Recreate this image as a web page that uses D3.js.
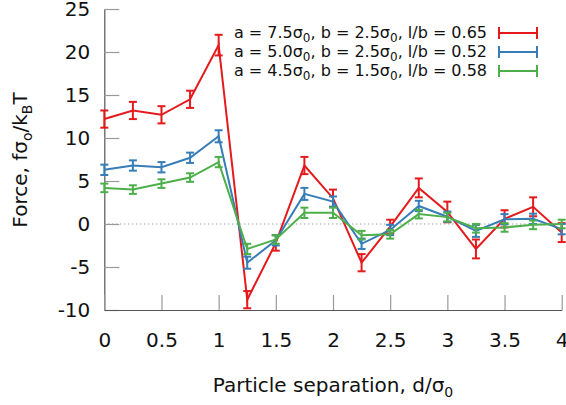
<!DOCTYPE html>
<html><head><meta charset="utf-8">
<script src="https://cdn.jsdelivr.net/npm/d3@7/dist/d3.min.js"></script>
<style>body{margin:0;background:#fff}svg{display:block}text{font-family:"DejaVu Sans",sans-serif}</style>
</head><body>
<script>
const separation = [0,0.25,0.5,0.75,1,1.25,1.5,1.75,2,2.25,2.5,2.75,3,3.25,3.5,3.75,4];
const redForce   = [12.2,13.2,12.7,14.5,20.8,-8.8,-2.2,6.8,3.0,-4.5,-0.3,4.2,1.4,-2.9,0.6,2.0,-1.0];
const redErr     = [1.0,1.0,1.0,1.0,1.2,1.0,0.9,1.0,1.0,1.0,0.8,1.1,1.2,1.1,1.0,1.1,1.1];
const blueForce  = [6.3,6.8,6.6,7.7,10.2,-4.5,-1.9,3.5,2.6,-2.3,-0.7,2.1,0.85,-0.8,0.55,0.6,-0.6];
const blueErr    = [0.6,0.6,0.6,0.6,0.7,0.7,0.6,0.7,0.6,0.6,0.6,0.6,0.6,0.7,0.6,0.6,0.6];
const greenForce = [4.2,4.0,4.7,5.4,7.2,-2.9,-1.8,1.3,1.3,-1.3,-1.2,1.15,0.8,-0.5,-0.4,-0.1,0.0];
const greenErr   = [0.5,0.5,0.5,0.5,0.6,0.6,0.5,0.6,0.6,0.5,0.5,0.5,0.5,0.5,0.5,0.5,0.5];
const seriesLabels = [
  ["a = 7.5σ","0",", b = 2.5σ","0",", l/b = 0.65"],
  ["a = 5.0σ","0",", b = 2.5σ","0",", l/b = 0.52"],
  ["a = 4.5σ","0",", b = 1.5σ","0",", l/b = 0.58"]
];
const colors = ["#e41a1c","#377eb8","#4daf4a"];
const xTicks = [0,0.5,1,1.5,2,2.5,3,3.5,4];
const yTicks = [-10,-5,0,5,10,15,20,25];

const W=566,H=405;
const svg=d3.select("body").append("svg").attr("width",W).attr("height",H);
const x=d3.scaleLinear().domain([0,4]).range([104.3,561.7]);
const y=d3.scaleLinear().domain([-10,25]).range([310,9]);

// zero line
svg.append("line").attr("x1",x(0)).attr("x2",x(4)).attr("y1",y(0)).attr("y2",y(0))
  .attr("stroke","#777").attr("stroke-width",1).attr("stroke-dasharray","1,3");

const yAx=svg.append("g").attr("transform",`translate(${x(0)},0)`)
  .call(d3.axisLeft(y).tickValues(yTicks).tickSize(-15).tickPadding(14).tickSizeOuter(0).tickFormat(d=>String(d)));
const xAx=svg.append("g").attr("transform",`translate(0,${y(-10)})`)
  .call(d3.axisBottom(x).tickValues(xTicks).tickSize(-15).tickPadding(23).tickSizeOuter(0).tickFormat(d=>String(d)));
[yAx,xAx].forEach(g=>{
  g.select(".domain").attr("stroke","#555").attr("stroke-width",1.2);
  g.selectAll(".tick line").attr("stroke","#999").attr("stroke-width",1.2);
  g.selectAll(".tick text").attr("font-size",20).attr("fill","#111").attr("font-family","DejaVu Sans");
});

const series=[redForce,blueForce,greenForce];
const errs=[redErr,blueErr,greenErr];
const line=d3.line().x((d,i)=>x(separation[i])).y(d=>y(d));
series.forEach((s,k)=>{
  const g=svg.append("g");
  g.append("path").attr("d",line(s)).attr("fill","none").attr("stroke",colors[k]).attr("stroke-width",2);
  s.forEach((v,i)=>{
    const cx=x(separation[i]),y1=y(v-errs[k][i]),y2=y(v+errs[k][i]);
    g.append("line").attr("x1",cx).attr("x2",cx).attr("y1",y1).attr("y2",y2).attr("stroke",colors[k]).attr("stroke-width",2);
    [y1,y2].forEach(yy=>g.append("line").attr("x1",cx-4).attr("x2",cx+4).attr("y1",yy).attr("y2",yy).attr("stroke",colors[k]).attr("stroke-width",2));
  });
});

// legend
seriesLabels.forEach((parts,k)=>{
  const cy=33+k*19;
  const t=svg.append("text").attr("x",487).attr("y",cy+5).attr("text-anchor","end").attr("font-size",16).attr("fill","#111");
  parts.forEach((p,j)=>{
    const ts=t.append("tspan").text(p);
    if(j%2===1){ts.attr("font-size",12).attr("dy",4);} else if(j>0){ts.attr("dy",-4);}
  });
  const g=svg.append("g").attr("stroke",colors[k]).attr("stroke-width",2);
  g.append("line").attr("x1",499).attr("x2",537).attr("y1",cy).attr("y2",cy);
  g.append("line").attr("x1",499).attr("x2",499).attr("y1",cy-6).attr("y2",cy+6);
  g.append("line").attr("x1",537).attr("x2",537).attr("y1",cy-6).attr("y2",cy+6);
});

// axis titles
const yl=svg.append("text").attr("transform","translate(27,160) rotate(-90)").attr("text-anchor","middle").attr("font-size",20).attr("fill","#111");
yl.append("tspan").text("Force, fσ");
yl.append("tspan").text("o").attr("font-size",14).attr("dy",5);
yl.append("tspan").text("/k").attr("dy",-5);
yl.append("tspan").text("B").attr("font-size",14).attr("dy",5);
yl.append("tspan").text("T").attr("dy",-5);
const xl=svg.append("text").attr("x",333).attr("y",392).attr("text-anchor","middle").attr("font-size",20).attr("fill","#111");
xl.append("tspan").text("Particle separation, d/σ");
xl.append("tspan").text("0").attr("font-size",14).attr("dy",5);
</script>
</body></html>
